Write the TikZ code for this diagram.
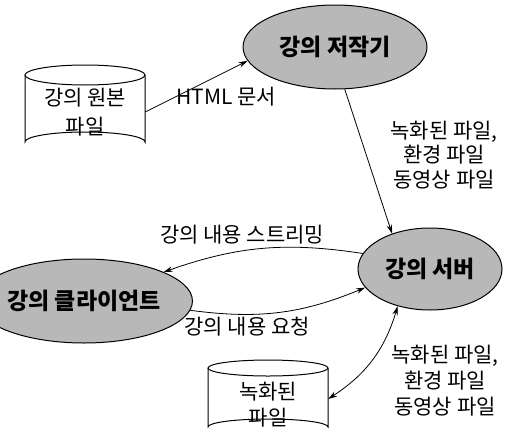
\documentclass[tikz,border=0pt]{standalone}
\usepackage{fontspec}
\setmainfont{Noto Sans CJK KR}
\usetikzlibrary{shapes.geometric,arrows.meta}
\tikzset{
  proc/.style={ellipse, draw=black, line width=1pt, fill=black!28, inner sep=0pt,
    font=\fontsize{23}{27}\selectfont\bfseries},
  store/.style={rectangle, draw=none, inner sep=0pt, align=center},
  lbl/.style={inner sep=0pt, align=center, font=\fontsize{21}{25}\selectfont},
  conn/.style={line width=0.8pt, -{Stealth[length=9pt,width=5.5pt]}},
  dconn/.style={line width=0.8pt, {Stealth[length=9pt,width=5.5pt]}-{Stealth[length=9pt,width=5.5pt]}},
  cyl/.style={line width=1pt, draw=black, fill=white}
}
\begin{document}
\begin{tikzpicture}[x=1pt,y=-1pt]
\useasboundingbox (0,0) rectangle (505,439);
% cylinder 1
\draw[cyl] (25,75) -- (25,142) arc[start angle=180,end angle=360,x radius=60,y radius=10] -- (145,75);
\draw[cyl] (85,75) ellipse[x radius=60,y radius=10];
\node[store, minimum width=120pt, minimum height=87pt, font=\fontsize{21}{29.5}\selectfont] (c1) at (85,112) {강의 원본\\파일};
% cylinder 2
\draw[cyl] (208,368) -- (208,427) arc[start angle=180,end angle=360,x radius=60,y radius=8] -- (328,368);
\draw[cyl] (268,368) ellipse[x radius=60,y radius=8];
\node[store, minimum width=120pt, minimum height=64pt, font=\fontsize{21}{26}\selectfont] (c2) at (268,405) {녹화된\\파일};
% processes
\node[proc, minimum width=184pt, minimum height=84pt] (e1) at (335,47) {강의 저작기};
\node[proc, minimum width=144pt, minimum height=82pt] (e2) at (430,269) {강의 서버};
\node[proc, minimum width=162pt, minimum height=84pt] (e3) at (84,301) {강의 클라이언트};
% connectors
\draw[conn] (c1.east) -- (e1.189);
\draw[conn] (e1.-77) -- (e2.137);
\draw[conn] (e2.167) to[bend right=14] (e3.20);
\draw[conn] (e3.-5) to[bend right=15] (e2.196);
\draw[dconn] (e2.229) to[bend left=20] ([yshift=6pt]c2.east);
% labels
\node[lbl] (l1) at (226,97) {HTML 문서};
\node[lbl, font=\fontsize{21}{24.5}\selectfont] (l2) at (444,155) {녹화된 파일,\\환경 파일\\동영상 파일};
\node[lbl] (l3) at (242,235) {강의 내용 스트리밍};
\node[lbl] (l4) at (247,327) {강의 내용 요청};
\node[lbl, font=\fontsize{21}{26}\selectfont] (l5) at (445,381) {녹화된 파일,\\환경 파일\\동영상 파일};
\end{tikzpicture}
\end{document}
